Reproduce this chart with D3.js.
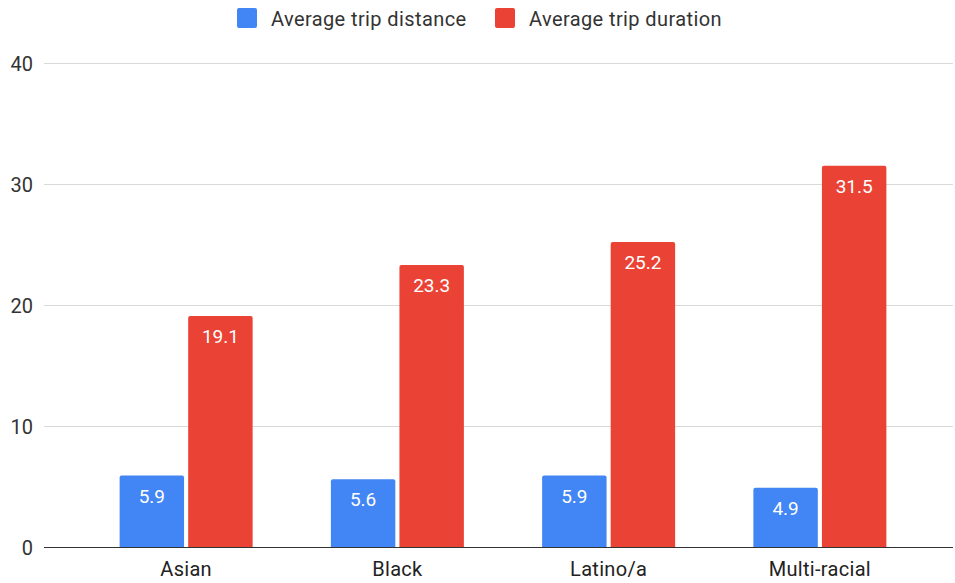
<!DOCTYPE html>
<html>
<head>
<meta charset="utf-8">
<script src="https://cdn.jsdelivr.net/npm/d3@7"></script>
<style>
  html, body { margin: 0; padding: 0; background: #fff; }
  svg { display: block; font-family: Roboto, "Noto Sans", Arial, sans-serif; }
</style>
</head>
<body>
<svg id="chart" width="955" height="583"></svg>
<script>
// Trip averages by group
const categories = ["Asian", "Black", "Latino/a", "Multi-racial"];
const seriesNames = ["Average trip distance", "Average trip duration"];
const distance = [5.9, 5.6, 5.9, 4.9];
const duration = [19.1, 23.3, 25.2, 31.5];
const yTicks = [0, 10, 20, 30, 40];
const colors = ["#4285F4", "#EA4335"];

const svg = d3.select("#chart");
const gridLeft = 44, gridRight = 953;
const yTop = 63, yBottom = 547;
const FS = 20;

const x = d3.scaleBand().domain(categories).range([80.5, 925.5]).paddingInner(0).paddingOuter(0);
const xs = d3.scaleBand().domain([0, 1]).range([0, 133]).paddingInner(0.06);
const y = d3.scaleLinear().domain([0, 40]).range([yBottom, yTop]);

// gridlines
svg.append("g").selectAll("line").data(yTicks.filter(t => t > 0)).join("line")
  .attr("x1", gridLeft).attr("x2", gridRight)
  .attr("y1", d => Math.round(y(d)) + 0.5).attr("y2", d => Math.round(y(d)) + 0.5)
  .attr("stroke", "#d9d9d9").attr("stroke-width", 1);

// y tick labels
const yAxis = d3.axisLeft(y).tickValues(yTicks).tickSize(0).tickPadding(0);
const ya = svg.append("g").attr("transform", `translate(33,0)`).call(yAxis);
ya.select(".domain").remove();
ya.selectAll("text").attr("font-size", FS).attr("fill", "#333")
  .attr("font-family", "Roboto, sans-serif").attr("dy", "0.35em");

const rows = categories.map((c, i) => ({ cat: c, vals: [distance[i], duration[i]] }));

function topRounded(x0, y0, w, h, r) {
  return `M${x0},${y0 + h}V${y0 + r}Q${x0},${y0} ${x0 + r},${y0}H${x0 + w - r}Q${x0 + w},${y0} ${x0 + w},${y0 + r}V${y0 + h}Z`;
}

const groups = svg.append("g").selectAll("g").data(rows).join("g")
  .attr("transform", d => `translate(${x(d.cat) + (x.bandwidth() - 133) / 2},0)`);

const bars = groups.selectAll("g").data(d => d.vals.map((v, k) => ({ v, k }))).join("g");
bars.append("path")
  .attr("d", d => topRounded(xs(d.k), y(d.v), xs.bandwidth(), yBottom - y(d.v), 2))
  .attr("fill", d => colors[d.k]);
bars.append("text")
  .attr("x", d => xs(d.k) + xs.bandwidth() / 2)
  .attr("y", d => y(d.v) + 27)
  .attr("text-anchor", "middle")
  .attr("font-size", 19)
  .attr("fill", "#fff")
  .text(d => d.v.toFixed(1));

// baseline
svg.append("line").attr("x1", gridLeft).attr("x2", gridRight)
  .attr("y1", yBottom + 0.5).attr("y2", yBottom + 0.5)
  .attr("stroke", "#333").attr("stroke-width", 1);

// x axis labels
const xAxis = d3.axisBottom(x).tickSize(0).tickPadding(0);
const xa = svg.append("g").attr("transform", `translate(0,0)`).call(xAxis);
xa.select(".domain").remove();
xa.selectAll("text").attr("font-size", FS).attr("fill", "#222")
  .attr("font-family", "Roboto, sans-serif").attr("y", 576).attr("dy", null)
  .attr("letter-spacing", "0.3px");

// legend
const legendItems = [{ name: seriesNames[0], x: 237, tx: 271 }, { name: seriesNames[1], x: 495, tx: 529 }];
const lg = svg.append("g").selectAll("g").data(legendItems).join("g");
lg.append("rect").attr("x", d => d.x).attr("y", 8).attr("width", 20).attr("height", 20).attr("rx", 2)
  .attr("fill", (d, i) => colors[i]);
lg.append("text").attr("x", d => d.tx).attr("y", 25.5).attr("font-size", FS).attr("fill", "#333")
  .attr("letter-spacing", "0.4px")
  .text(d => d.name);
</script>
</body>
</html>
